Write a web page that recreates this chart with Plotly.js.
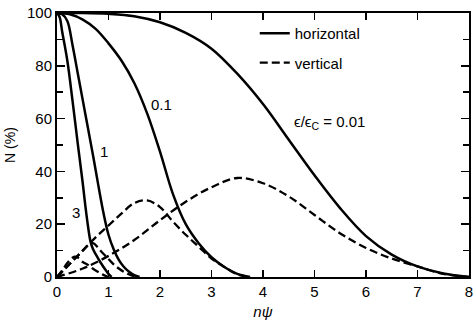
<!DOCTYPE html>
<html>
<head>
<meta charset="utf-8">
<script src="https://cdn.plot.ly/plotly-3.0.1.min.js"></script>
<style>
  html, body { margin: 0; padding: 0; background: #fff; }
  #chart { width: 474px; height: 320px; }
</style>
</head>
<body>
<div id="chart"></div>
<script>
// ε/εc = 0.01
const x001 = [0, 0.5, 1, 1.5, 2, 2.5, 3, 3.5, 4, 4.5, 5, 5.5, 6, 6.5, 7, 7.5, 8];
const hor001 = [100, 100, 99.7, 98.8, 96.5, 92.5, 86.5, 77, 65.5, 52, 38.5, 26, 15.5, 8.5, 4, 1.3, 0];
const ver001 = [0, 3.2, 8, 14, 21.5, 28.5, 34, 37.5, 35.5, 30.5, 23.5, 16.5, 11, 7, 4, 1.2, 0];
// ε/εc = 0.1
const x01 = [0, 0.25, 0.5, 0.75, 1, 1.25, 1.5, 1.75, 2, 2.25, 2.5, 2.75, 3, 3.25, 3.5, 3.75];
const hor01 = [100, 99.5, 97.5, 94, 88.5, 82, 73.5, 62, 47.5, 31.5, 20, 12.8, 7.5, 3.8, 1.2, 0];
const ver01 = [0, 5, 10, 15, 19.5, 24, 28, 29, 26.5, 21, 16, 11.5, 7, 3.8, 1, 0];
// ε/εc = 1
const x1 = [0, 0.1, 0.2, 0.3, 0.4, 0.5, 0.6, 0.7, 0.8, 0.9, 1.0, 1.1, 1.2, 1.3, 1.4, 1.5, 1.6];
const hor1 = [100, 99.5, 97, 88, 77.5, 67, 56.5, 46, 35, 24.5, 16, 10.5, 6.5, 3.8, 2, 0.7, 0];
const ver1 = [0, 2, 4, 6, 8, 10, 12, 12.8, 11, 8.8, 6.8, 4.8, 3.2, 1.9, 1.0, 0.3, 0];
// ε/εc = 3
const x3h = [0, 0.05, 0.1, 0.2, 0.3, 0.4, 0.5, 0.55, 0.6, 0.65, 0.7, 0.8, 0.9, 1.0, 1.06];
const hor3 = [100, 98.5, 93, 82, 67, 51, 35.5, 27, 19.5, 13.5, 10.5, 7, 3.9, 1.2, 0];
const x3v = [0, 0.1, 0.2, 0.3, 0.35, 0.4, 0.5, 0.6, 0.7, 0.8, 0.9, 1.0];
const ver3 = [0, 2.5, 5.3, 7.3, 7.7, 7.4, 5.7, 4.6, 3.1, 1.9, 0.8, 0];

const xTicks = [0, 1, 2, 3, 4, 5, 6, 7, 8];

const labels = [
  {x: 2.03, y: 65.5, text: '0.1'},
  {x: 0.92, y: 47.7, text: '1'},
  {x: 0.37, y: 24.6, text: '3'},
  {x: 5.3, y: 58.7, text: 'ϵ/ϵ<sub>C</sub> = 0.01'}
];

const FONT = 'Liberation Sans, Arial, Helvetica, sans-serif';
const solid = {color: '#000', width: 2.5, shape: 'spline', smoothing: 1};
const dashed = {color: '#000', width: 2.3, dash: '8px,4px', shape: 'spline', smoothing: 1};

function tr(x, y, line, name, group, show) {
  return {x: x, y: y, type: 'scatter', mode: 'lines', line: line, name: name,
          legendgroup: group, showlegend: show, hoverinfo: 'skip'};
}

const data = [
  tr(x001, hor001, solid, 'horizontal', 'h', true),
  tr(x01, hor01, solid, 'horizontal', 'h', false),
  tr(x1, hor1, solid, 'horizontal', 'h', false),
  tr(x3h, hor3, solid, 'horizontal', 'h', false),
  tr(x001, ver001, dashed, 'vertical', 'v', true),
  tr(x01, ver01, dashed, 'vertical', 'v', false),
  tr(x1, ver1, dashed, 'vertical', 'v', false),
  tr(x3v, ver3, dashed, 'vertical', 'v', false)
];

const axisCommon = {
  showline: true, linecolor: '#000', linewidth: 2, mirror: 'ticks',
  ticks: 'inside', tickcolor: '#000', tickwidth: 1.5,
  showgrid: false, zeroline: false, ticklabeloverflow: 'allow',
  tickfont: {family: FONT, size: 15, color: '#000'}
};

const layout = {
  width: 474, height: 320,
  margin: {l: 57, r: 5, t: 13, b: 43},
  paper_bgcolor: '#fff', plot_bgcolor: '#fff',
  font: {family: FONT, size: 15, color: '#000'},
  xaxis: Object.assign({}, axisCommon, {
    range: [0, 8], tickvals: xTicks, ticklen: 7,
    title: {text: '<i>nψ</i>', font: {family: FONT, size: 15, color: '#000'}, standoff: 8}
  }),
  yaxis: Object.assign({}, axisCommon, {
    range: [0, 100], dtick: 20, ticklen: 8,
    minor: {dtick: 10, ticks: 'inside', ticklen: 6, tickcolor: '#000', tickwidth: 1.5},
    title: {text: 'N (%)', font: {family: FONT, size: 14, color: '#000'}, standoff: 8}
  }),
  showlegend: true,
  legend: {
    x: 0.48, y: 0.985, xanchor: 'left', yanchor: 'top',
    bgcolor: 'rgba(0,0,0,0)', borderwidth: 0,
    traceorder: 'grouped', tracegroupgap: 7,
    font: {family: FONT, size: 15, color: '#000'}
  },
  annotations: labels.map(l => ({
    x: l.x, y: l.y, xref: 'x', yref: 'y', text: l.text, showarrow: false,
    font: {family: FONT, size: 15, color: '#000'}
  }))
};

Plotly.newPlot('chart', data, layout, {staticPlot: true, displayModeBar: false});
</script>
</body>
</html>
